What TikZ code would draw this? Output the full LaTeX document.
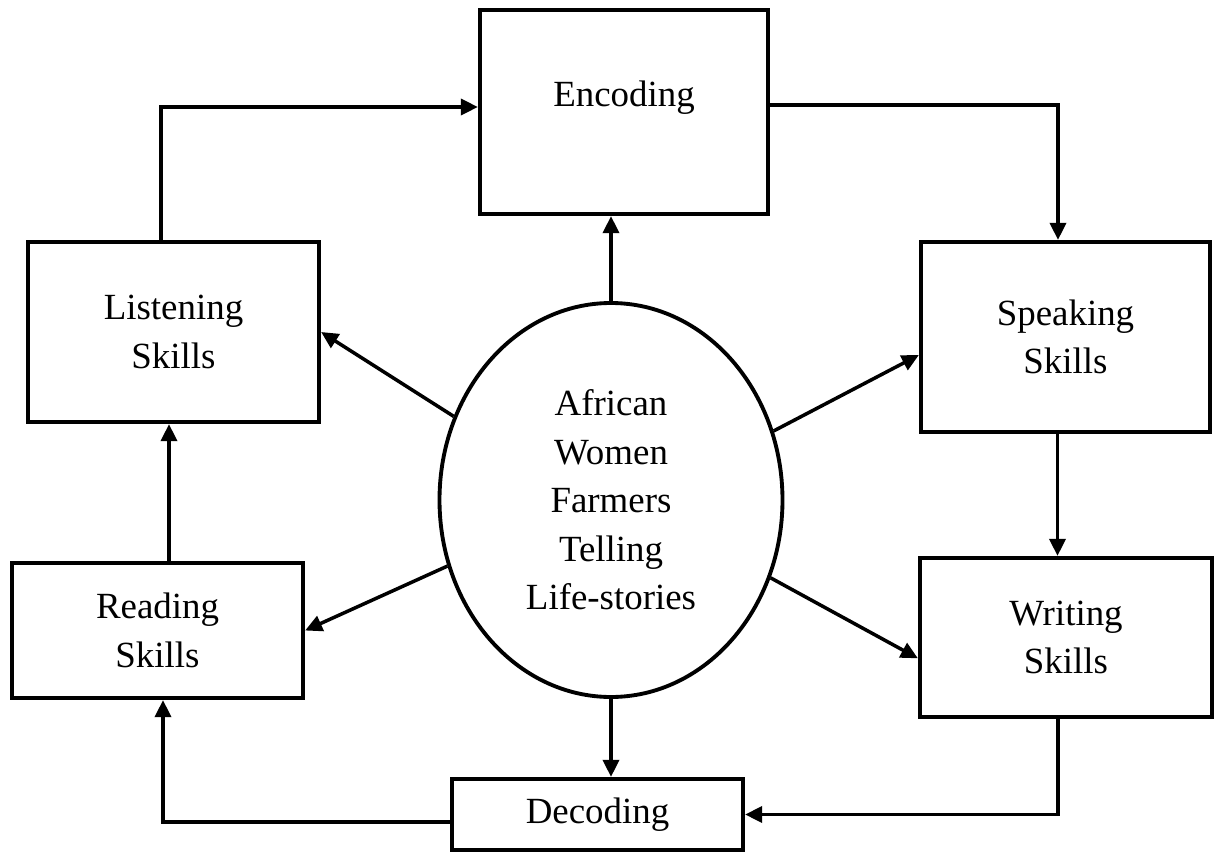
\documentclass[tikz,border=0pt]{standalone}
\usepackage{fontspec}
\setmainfont{Liberation Serif}
\usetikzlibrary{arrows.meta,shapes.geometric}

\begin{document}
\begin{tikzpicture}[
  >={Triangle[length=0.34cm,width=0.32cm]},
  skillbox/.style={draw, line width=2.4pt, inner sep=0pt, align=center,
    font=\fontsize{21}{27.6}\selectfont},
  hub/.style={draw, ellipse, line width=2.2pt, inner sep=0pt, align=center,
    minimum width=6.86cm, minimum height=7.88cm,
    font=\fontsize{21}{27.6}\selectfont},
  link/.style={->, line width=2pt}
]
\useasboundingbox (0,0) rectangle (24.36,-17.06);

% the boxes round the centre
\node[skillbox, minimum width=5.76cm, minimum height=4.08cm,
  text height=1.92cm, text depth=2.16cm] (enc) at (12.48,-2.24) {Encoding};
\node[skillbox, minimum width=5.82cm, minimum height=3.60cm] (listen) at (3.47,-6.64) {Listening\\Skills};
\node[skillbox, minimum width=5.78cm, minimum height=3.80cm] (speak) at (21.31,-6.74) {Speaking\\Skills};
\node[skillbox, minimum width=5.82cm, minimum height=2.70cm] (read) at (3.15,-12.61) {Reading\\Skills};
\node[skillbox, minimum width=5.84cm, minimum height=3.18cm] (write) at (21.32,-12.75) {Writing\\Skills};
\node[skillbox, minimum width=5.82cm, minimum height=1.42cm] (dec) at (11.95,-16.29) {Decoding};
\node[hub] (story) at (12.22,-10.00) {African\\Women\\Farmers\\Telling\\Life-stories};

% the outer cycle
\draw[link] ([xshift=-0.25cm]listen.north) |- ([yshift=0.1cm]enc.west);
\draw[link] ([yshift=0.14cm]enc.east) -| ([xshift=-0.15cm]speak.north);
\draw[link] ([xshift=-0.16cm]speak.south) -- ([xshift=-0.16cm]speak.south |- write.north);
\draw[link] ([xshift=-0.16cm]write.south) |- (dec.east);
\draw[link] ([yshift=-0.15cm]dec.west) -| ([xshift=0.11cm]read.south);
\draw[link] ([xshift=0.23cm]read.north) -- ([xshift=0.23cm]read.north |- listen.south);

% spokes from the centre
\draw[link] (story.north) -- (story.north |- enc.south);
\draw[link] (story.152) -- (listen.east);
\draw[link] (story.23) -- (speak.187);
\draw[link] (story.202) -- (read.east);
\draw[link] (story.-26) -- (write.188);
\draw[link] (story.south) -- (story.south |- dec.north);
\end{tikzpicture}
\end{document}
